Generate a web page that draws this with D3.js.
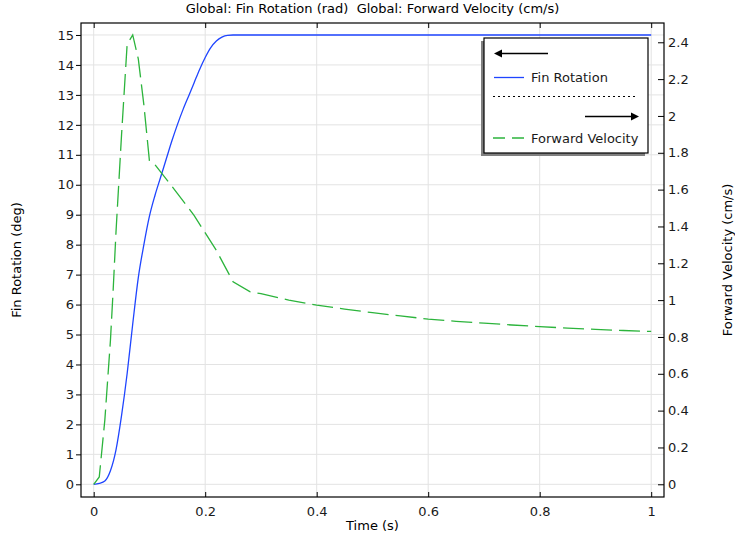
<!DOCTYPE html>
<html>
<head>
<meta charset="utf-8">
<script src="https://cdn.jsdelivr.net/npm/d3@7"></script>
<style>
  body { margin: 0; background: #fff; }
  svg { display: block; font-family: "DejaVu Sans", sans-serif; }
</style>
</head>
<body>
<div class="chart"></div>
<script>
// Fin rotation (deg) vs time (s)
var rotTime = [0, 0.01, 0.02, 0.03, 0.04, 0.05, 0.06, 0.07, 0.08, 0.09, 0.10, 0.11, 0.12, 0.13,
               0.14, 0.15, 0.16, 0.17, 0.18, 0.19, 0.20, 0.21, 0.22, 0.23, 0.24, 0.25, 1.0];
var finRotation = [0, 0.03, 0.11, 0.45, 1.15, 2.3, 3.7, 5.35, 6.9, 8.0, 8.95, 9.65, 10.25, 10.85,
                   11.45, 12.0, 12.5, 12.95, 13.4, 13.85, 14.25, 14.58, 14.8, 14.93, 14.99, 15, 15];

// Forward velocity (cm/s) vs time (s)
var velTime = [0, 0.01, 0.02, 0.03, 0.035, 0.04, 0.05, 0.06, 0.07, 0.08, 0.09, 0.10, 0.11,
               0.15, 0.18, 0.22, 0.25, 0.28, 0.30, 0.35, 0.40, 0.45, 0.50, 0.55, 0.60, 0.65,
               0.70, 0.75, 0.80, 0.85, 0.90, 0.95, 1.0];
var forwardVelocity = [0, 0.04, 0.35, 0.78, 1.06, 1.37, 1.9, 2.39, 2.44, 2.31, 2.06, 1.755, 1.735,
                       1.58, 1.46, 1.27, 1.10, 1.046, 1.035, 1.0, 0.973, 0.951, 0.932, 0.914, 0.897, 0.885,
                       0.875, 0.865, 0.856, 0.848, 0.841, 0.835, 0.83];

var xTicks = [0, 0.2, 0.4, 0.6, 0.8, 1];
var leftTicks = d3.range(0, 16);
var rightTicks = [0, 0.2, 0.4, 0.6, 0.8, 1, 1.2, 1.4, 1.6, 1.8, 2, 2.2, 2.4];

var title = "Global: Fin Rotation (rad)  Global: Forward Velocity (cm/s)";
var legendNames = ["Fin Rotation", "Forward Velocity"];

var width = 735, height = 536;
var pLeft = 81, pRight = 664, pTop = 23, pBottom = 497;
var blue = "#1f45ff", green = "#2cb43c";
var fmt = function(d){ return String(+d.toFixed(1)); };

var svg = d3.select(".chart").append("svg")
    .attr("width", width)
    .attr("height", height);

var x = d3.scaleLinear().domain([-0.02278, 1.02296]).range([pLeft, pRight]);
var yL = d3.scaleLinear().domain([-0.424, 15.40]).range([pBottom, pTop]);
var yR = d3.scaleLinear().domain([-0.069, 2.5047]).range([pBottom, pTop]);

// grid
var grid = svg.append("g").attr("stroke", "#e3e3e3").attr("stroke-width", 1);
grid.selectAll(".gx").data(xTicks).enter().append("line")
    .attr("x1", function(d){ return x(d); }).attr("x2", function(d){ return x(d); })
    .attr("y1", pTop).attr("y2", pBottom);
grid.selectAll(".gy").data(leftTicks).enter().append("line")
    .attr("x1", pLeft).attr("x2", pRight)
    .attr("y1", function(d){ return yL(d); }).attr("y2", function(d){ return yL(d); });

// curves
var rotData = rotTime.map(function(t, i){ return [t, finRotation[i]]; });
var velData = velTime.map(function(t, i){ return [t, forwardVelocity[i]]; });

svg.append("path")
    .datum(rotData)
    .attr("fill", "none")
    .attr("stroke", blue)
    .attr("stroke-width", 1.3)
    .attr("d", d3.line().curve(d3.curveMonotoneX)
        .x(function(d){ return x(d[0]); }).y(function(d){ return yL(d[1]); }));

svg.append("path")
    .datum(velData)
    .attr("fill", "none")
    .attr("stroke", green)
    .attr("stroke-width", 1.3)
    .attr("stroke-dasharray", "21,7")
    .attr("d", d3.line().x(function(d){ return x(d[0]); }).y(function(d){ return yR(d[1]); }));

// axes
function styleAxis(g){
    g.select(".domain").remove();
    g.selectAll(".tick line").attr("stroke", "#000");
    g.selectAll(".tick text").attr("fill", "#1a1a1a").style("font-size", "13px")
        .style("font-family", "'DejaVu Sans', sans-serif");
}

svg.append("g")
    .attr("transform", "translate(" + pLeft + ",0)")
    .call(d3.axisLeft(yL).tickValues(leftTicks).tickSize(5).tickPadding(2).tickFormat(d3.format("d")))
    .call(styleAxis);

svg.append("g")
    .attr("transform", "translate(" + pRight + ",0)")
    .call(d3.axisRight(yR).tickValues(rightTicks).tickSize(-6).tickPadding(4).tickFormat(fmt))
    .call(styleAxis);

svg.append("g")
    .attr("transform", "translate(0," + pBottom + ")")
    .call(d3.axisBottom(x).tickValues(xTicks).tickSize(-5).tickPadding(9.5).tickFormat(fmt))
    .call(styleAxis);

svg.append("g")
    .attr("transform", "translate(0," + pTop + ")")
    .call(d3.axisTop(x).tickValues(xTicks).tickSize(-5).tickFormat(""))
    .call(styleAxis);

// frame
svg.append("rect")
    .attr("x", pLeft).attr("y", pTop)
    .attr("width", pRight - pLeft).attr("height", pBottom - pTop)
    .attr("fill", "none").attr("stroke", "#000").attr("stroke-width", 1.2);

// labels
svg.append("text")
    .attr("x", (pLeft + pRight) / 2).attr("y", 13)
    .attr("text-anchor", "middle").style("font-size", "13px").style("white-space", "pre")
    .attr("fill", "#000")
    .text(title);

svg.append("text")
    .attr("x", (pLeft + pRight) / 2).attr("y", 530)
    .attr("text-anchor", "middle").style("font-size", "13px").attr("fill", "#000")
    .text("Time (s)");

svg.append("text")
    .attr("transform", "translate(21," + (pTop + pBottom) / 2 + ") rotate(-90)")
    .attr("text-anchor", "middle").style("font-size", "13px").attr("fill", "#000")
    .text("Fin Rotation (deg)");

svg.append("text")
    .attr("transform", "translate(731.5," + (pTop + pBottom) / 2 + ") rotate(-90)")
    .attr("text-anchor", "middle").style("font-size", "13px").attr("fill", "#000")
    .text("Forward Velocity (cm/s)");

// legend
var lg = svg.append("g");
lg.append("rect")
    .attr("x", 481).attr("y", 41).attr("width", 164).attr("height", 115)
    .attr("fill", "#808080");
lg.append("rect")
    .attr("x", 484).attr("y", 38).attr("width", 164).attr("height", 115)
    .attr("fill", "#fff").attr("stroke", "#000").attr("stroke-width", 1.2);

// left arrow
lg.append("line").attr("x1", 500).attr("x2", 548).attr("y1", 53.5).attr("y2", 53.5)
    .attr("stroke", "#000").attr("stroke-width", 1.5);
lg.append("path").attr("d", "M494,53.5 L502,49.5 L502,57.5 Z").attr("fill", "#000");

lg.append("line").attr("x1", 494).attr("x2", 524).attr("y1", 77.5).attr("y2", 77.5)
    .attr("stroke", blue).attr("stroke-width", 1.3);
lg.append("text").attr("x", 531).attr("y", 82).style("font-size", "13px").attr("fill", "#1a1a1a")
    .text(legendNames[0]);

lg.append("line").attr("x1", 493).attr("x2", 638).attr("y1", 96.5).attr("y2", 96.5)
    .attr("stroke", "#000").attr("stroke-width", 1).attr("stroke-dasharray", "2,3");

// right arrow
lg.append("line").attr("x1", 585).attr("x2", 633).attr("y1", 116.5).attr("y2", 116.5)
    .attr("stroke", "#000").attr("stroke-width", 1.5);
lg.append("path").attr("d", "M639,116.5 L631,112.5 L631,120.5 Z").attr("fill", "#000");

lg.append("line").attr("x1", 493).attr("x2", 525).attr("y1", 138).attr("y2", 138)
    .attr("stroke", green).attr("stroke-width", 1.3).attr("stroke-dasharray", "12,7");
lg.append("text").attr("x", 531).attr("y", 142.5).style("font-size", "13px").attr("fill", "#1a1a1a")
    .text(legendNames[1]);
</script>
</body>
</html>
